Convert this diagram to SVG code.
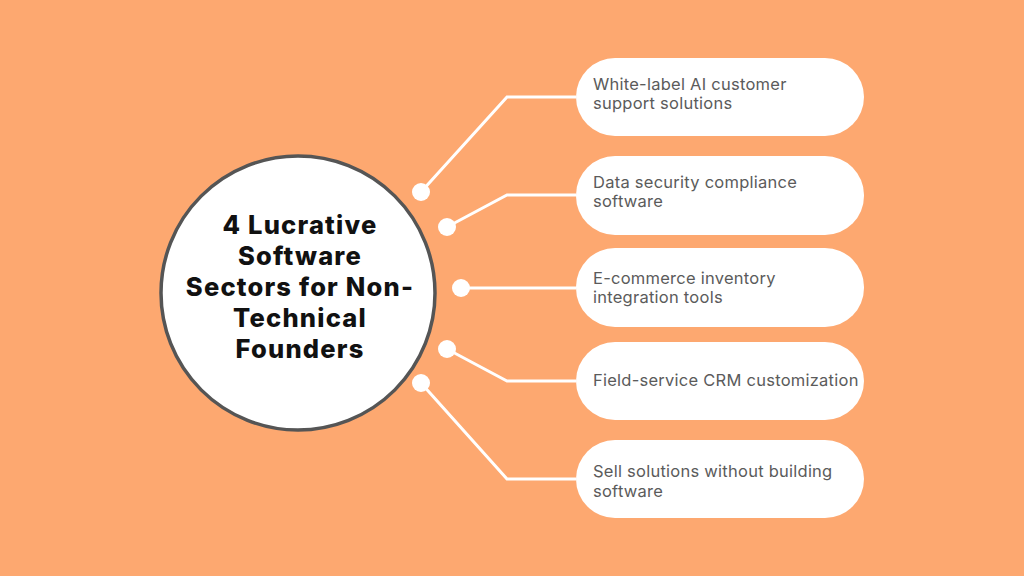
<svg xmlns="http://www.w3.org/2000/svg" width="1024" height="576" viewBox="0 0 1024 576">
<defs>
<style>
.pill{fill:#ffffff}
.pt{font-family:Inter,"Noto Sans",sans-serif;font-size:16.5px;letter-spacing:0.25px;fill:#5b5b5b}
.title{font-family:Inter,"Noto Sans",sans-serif;font-size:25.5px;letter-spacing:1.2px;font-weight:800;fill:#111111;text-anchor:middle}
.con{fill:none;stroke:#ffffff;stroke-width:3;stroke-linejoin:miter}
.dot{fill:#ffffff}
</style>
</defs>
<rect width="1024" height="576" fill="#fda870"/>
<g id="connectors">
<polyline class="con" points="421,192 507,97 576,97"/>
<polyline class="con" points="447,227 507,195 576,195"/>
<polyline class="con" points="461,288 576,288"/>
<polyline class="con" points="447,349 507,381 576,381"/>
<polyline class="con" points="421,383 507,479 576,479"/>
<circle class="dot" cx="421" cy="192" r="9"/>
<circle class="dot" cx="447" cy="227" r="9"/>
<circle class="dot" cx="461" cy="288" r="9"/>
<circle class="dot" cx="447" cy="349" r="9"/>
<circle class="dot" cx="421" cy="383" r="9"/>
</g>
<g id="center">
<circle cx="298" cy="293" r="137" fill="#ffffff" stroke="#555555" stroke-width="3.5"/>
<text class="title" x="300" y="234">4 Lucrative</text>
<text class="title" x="300" y="265">Software</text>
<text class="title" x="300" y="296">Sectors for Non-</text>
<text class="title" x="300" y="327">Technical</text>
<text class="title" x="300" y="358">Founders</text>
</g>
<g id="n1">
<rect class="pill" x="576" y="58" width="288" height="78" rx="39"/>
<text class="pt" x="593" y="90">White-label AI customer</text>
<text class="pt" x="593" y="109">support solutions</text>
</g>
<g id="n2">
<rect class="pill" x="576" y="156" width="288" height="79" rx="39"/>
<text class="pt" x="593" y="188">Data security compliance</text>
<text class="pt" x="593" y="207">software</text>
</g>
<g id="n3">
<rect class="pill" x="576" y="248" width="288" height="79" rx="39"/>
<text class="pt" x="593" y="284">E-commerce inventory</text>
<text class="pt" x="593" y="303">integration tools</text>
</g>
<g id="n4">
<rect class="pill" x="576" y="342" width="288" height="78" rx="39"/>
<text class="pt" x="593" y="386">Field-service CRM customization</text>
</g>
<g id="n5">
<rect class="pill" x="576" y="440" width="288" height="78" rx="39"/>
<text class="pt" x="593" y="477">Sell solutions without building</text>
<text class="pt" x="593" y="497">software</text>
</g>
</svg>
